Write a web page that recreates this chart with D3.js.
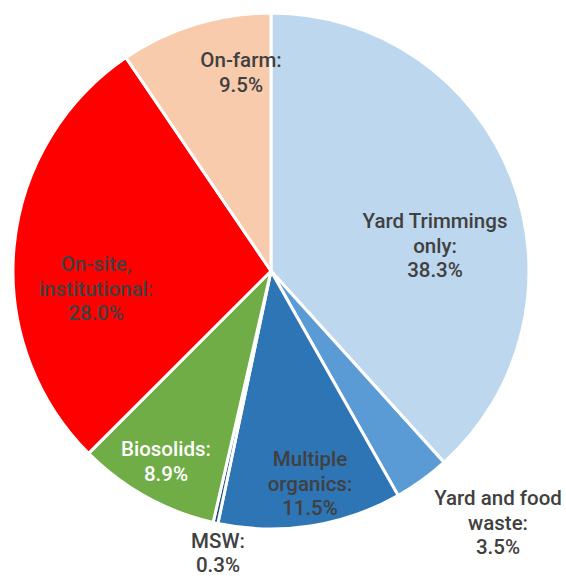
<!DOCTYPE html>
<html>
<head>
<meta charset="utf-8">
<script src="https://cdn.jsdelivr.net/npm/d3@7"></script>
<style>
  html, body { margin: 0; padding: 0; background: #fff; }
  svg text { font-family: Roboto, "Liberation Sans", Arial, sans-serif; font-weight: 500; }
</style>
</head>
<body>
<svg id="chart" width="566" height="578"></svg>
<script>
// Composting facilities by type (share of total, %)
const categories = [
  "Yard Trimmings only",
  "Yard and food waste",
  "Multiple organics",
  "MSW",
  "Biosolids",
  "On-site, institutional",
  "On-farm"
];
const shares = [38.3, 3.5, 11.5, 0.3, 8.9, 28.0, 9.5];
const labelLines = [
  ["Yard Trimmings", "only:"],
  ["Yard and food", "waste:"],
  ["Multiple", "organics:"],
  ["MSW:"],
  ["Biosolids:"],
  ["On-site,", "institutional:"],
  ["On-farm:"]
];

// Styling
const colors = ["#BDD7EE", "#5B9BD5", "#2E75B6", "#1F4E79", "#70AD47", "#FF0000", "#F8CBAD"];
const textColors = ["#404040", "#404040", "#404040", "#404040", "#FFFFFF", "#404040", "#404040"];
// Label anchor points (center of first text line)
const labelPos = [
  [435, 223], [498, 500], [310, 461], [218, 543], [166, 451], [96, 266], [241, 62]
];

const cx = 271, cy = 271, radius = 258;
const lineHeight = 24.5;

const svg = d3.select("#chart");
const g = svg.append("g").attr("transform", `translate(${cx},${cy})`);

const data = categories.map((c, i) => ({ name: c, value: shares[i], idx: i }));

const pie = d3.pie().value(d => d.value).sort(null);
const arc = d3.arc().innerRadius(0).outerRadius(radius);

g.selectAll("path.slice")
  .data(pie(data))
  .join("path")
  .attr("class", "slice")
  .attr("d", arc)
  .attr("fill", d => colors[d.data.idx])
  .attr("stroke", "#fff")
  .attr("stroke-width", 3)
  .attr("stroke-linejoin", "round");

const labels = svg.selectAll("text.lbl")
  .data(data)
  .join("text")
  .attr("class", "lbl")
  .attr("text-anchor", "middle")
  .attr("font-size", 20.5)
  .attr("fill", d => textColors[d.idx]);

labels.each(function(d) {
  const t = d3.select(this);
  const [x, y] = labelPos[d.idx];
  const lines = labelLines[d.idx].concat([d.value.toFixed(1) + "%"]);
  lines.forEach((ln, k) => {
    t.append("tspan")
      .attr("x", x)
      .attr("y", y + k * (d.idx === 3 ? 23.5 : lineHeight))
      .attr("dominant-baseline", "middle")
      .text(ln);
  });
});
</script>
</body>
</html>
